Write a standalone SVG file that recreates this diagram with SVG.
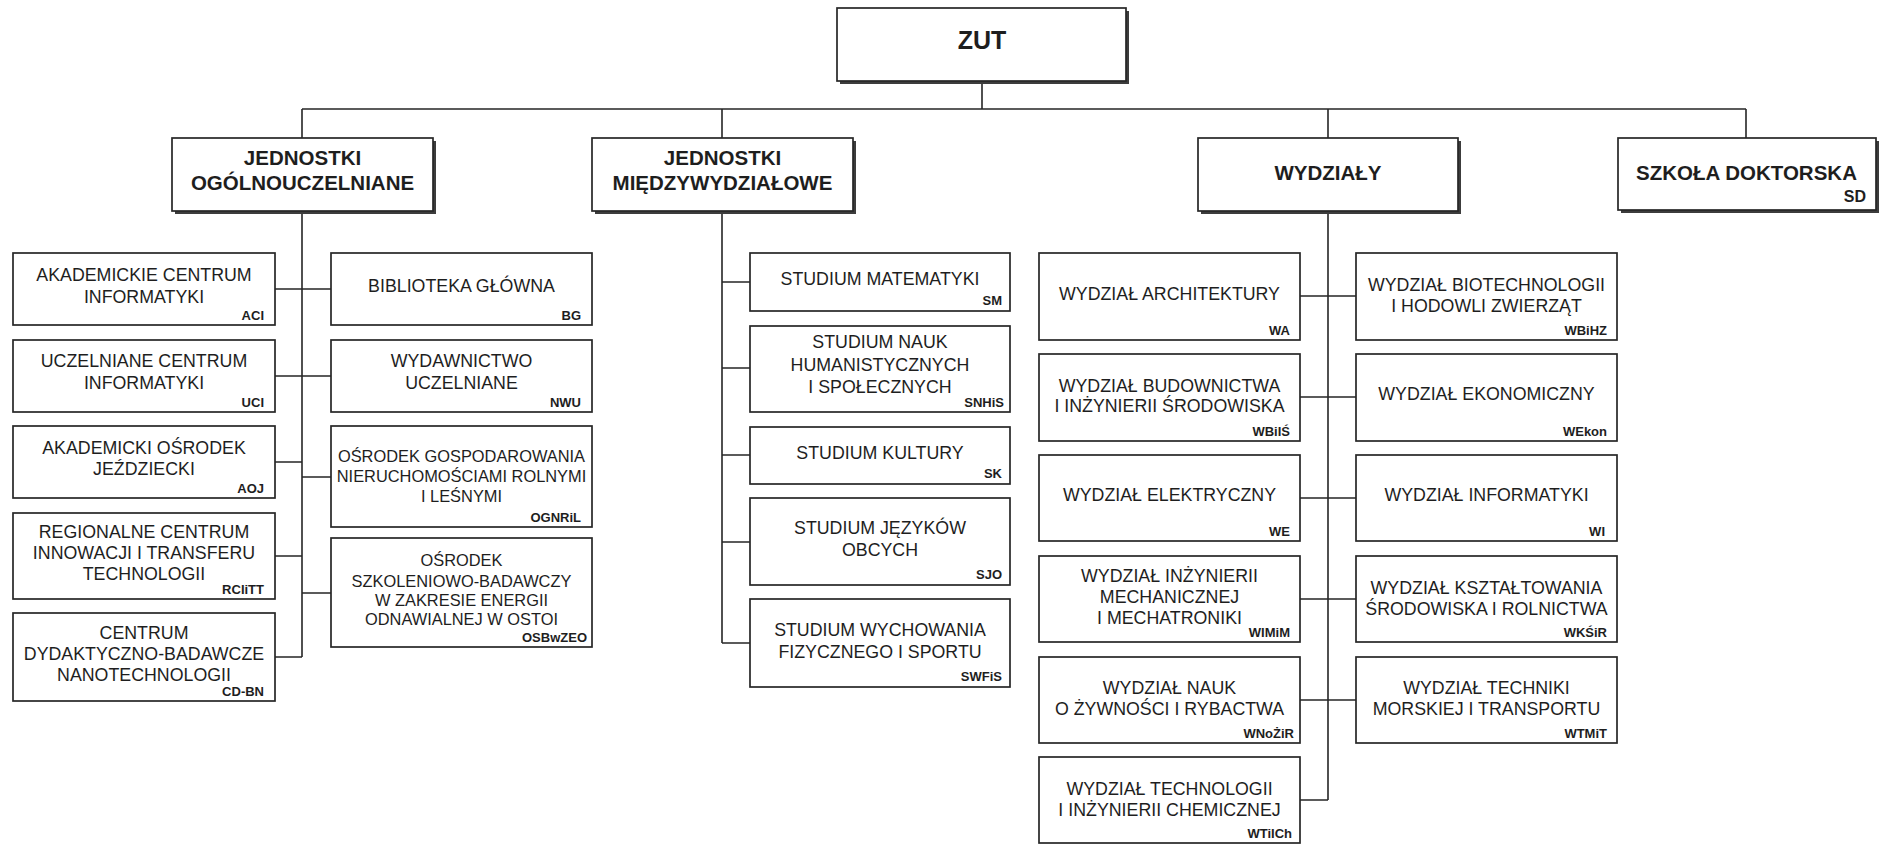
<svg xmlns="http://www.w3.org/2000/svg" width="1882" height="844" viewBox="0 0 1882 844">
<style>
.bg{fill:#fff}
.box{fill:#fff;stroke:#262626;stroke-width:1.7}
.sh{fill:#3c3c3c}
.ln{stroke:#262626;stroke-width:1.6;fill:none}
text{font-family:"Liberation Sans",Arial,sans-serif;fill:#1e1e1e}
.t{font-size:17.8px;text-anchor:middle}
.ts{font-size:16.4px;text-anchor:middle}
.h{font-size:20.5px;font-weight:bold;text-anchor:middle}
.z{font-size:25px;font-weight:bold;text-anchor:middle}
.a{font-size:13px;font-weight:bold;text-anchor:end}
.a2{font-size:16px;font-weight:bold;text-anchor:end}
</style>
<rect class="bg" x="0" y="0" width="1882" height="844"/>

<g id="connectors">
<path class="ln" d="M982 81V109M302 109H1746M302 109V138M722 109V138M1328 109V138M1746 109V138"/>
<path class="ln" d="M302 212V657M275 289H331M275 376H331M275 462H302M302 477H331M275 556H302M302 593H331M275 657H302"/>
<path class="ln" d="M722 212V643M722 282H750M722 368H750M722 455H750M722 542H750M722 643H750"/>
<path class="ln" d="M1328 212V800M1300 296H1356M1300 397H1356M1300 498H1356M1300 599H1356M1300 700H1356M1300 800H1328"/>
</g>

<g id="ZUT">
<rect class="sh" x="840" y="11" width="289" height="73"/>
<rect class="box" x="837" y="8" width="289" height="73"/>
<text class="z" x="982" y="49">ZUT</text>
</g>

<g id="JO">
<rect class="sh" x="175" y="141" width="261" height="73"/>
<rect class="box" x="172" y="138" width="261" height="73"/>
<text class="h" x="302.5" y="165">JEDNOSTKI</text>
<text class="h" x="302.5" y="190">OGÓLNOUCZELNIANE</text>
</g>

<g id="JM">
<rect class="sh" x="595" y="141" width="261" height="73"/>
<rect class="box" x="592" y="138" width="261" height="73"/>
<text class="h" x="722.5" y="165">JEDNOSTKI</text>
<text class="h" x="722.5" y="190">MIĘDZYWYDZIAŁOWE</text>
</g>

<g id="WYD">
<rect class="sh" x="1201" y="141" width="260" height="73"/>
<rect class="box" x="1198" y="138" width="260" height="73"/>
<text class="h" x="1328" y="180">WYDZIAŁY</text>
</g>

<g id="SD">
<rect class="sh" x="1621" y="141" width="258" height="72"/>
<rect class="box" x="1618" y="138" width="258" height="72"/>
<text class="h" x="1746.5" y="180">SZKOŁA DOKTORSKA</text>
<text class="a2" x="1866" y="202">SD</text>
</g>

<!-- JO children left -->
<g id="ACI">
<rect class="box" x="13" y="253" width="262" height="72"/>
<text class="t" x="144" y="281">AKADEMICKIE CENTRUM</text>
<text class="t" x="144" y="303">INFORMATYKI</text>
<text class="a" x="264" y="320">ACI</text>
</g>
<g id="UCI">
<rect class="box" x="13" y="340" width="262" height="72"/>
<text class="t" x="144" y="367">UCZELNIANE CENTRUM</text>
<text class="t" x="144" y="389">INFORMATYKI</text>
<text class="a" x="264" y="407">UCI</text>
</g>
<g id="AOJ">
<rect class="box" x="13" y="426" width="262" height="72"/>
<text class="t" x="144" y="454">AKADEMICKI OŚRODEK</text>
<text class="t" x="144" y="475">JEŹDZIECKI</text>
<text class="a" x="264" y="493">AOJ</text>
</g>
<g id="RCIiTT">
<rect class="box" x="13" y="513" width="262" height="86"/>
<text class="t" x="144" y="538">REGIONALNE CENTRUM</text>
<text class="t" x="144" y="559">INNOWACJI I TRANSFERU</text>
<text class="t" x="144" y="580">TECHNOLOGII</text>
<text class="a" x="264" y="594">RCIiTT</text>
</g>
<g id="CD-BN">
<rect class="box" x="13" y="613" width="262" height="88"/>
<text class="t" x="144" y="639">CENTRUM</text>
<text class="t" x="144" y="660">DYDAKTYCZNO-BADAWCZE</text>
<text class="t" x="144" y="681">NANOTECHNOLOGII</text>
<text class="a" x="264" y="696">CD-BN</text>
</g>

<!-- JO children right -->
<g id="BG">
<rect class="box" x="331" y="253" width="261" height="72"/>
<text class="t" x="461.5" y="292">BIBLIOTEKA GŁÓWNA</text>
<text class="a" x="581" y="320">BG</text>
</g>
<g id="NWU">
<rect class="box" x="331" y="340" width="261" height="72"/>
<text class="t" x="461.5" y="367">WYDAWNICTWO</text>
<text class="t" x="461.5" y="389">UCZELNIANE</text>
<text class="a" x="581" y="407">NWU</text>
</g>
<g id="OGNRiL">
<rect class="box" x="331" y="426" width="261" height="101"/>
<text class="ts" x="461.5" y="462">OŚRODEK GOSPODAROWANIA</text>
<text class="ts" x="461.5" y="482">NIERUCHOMOŚCIAMI ROLNYMI</text>
<text class="ts" x="461.5" y="502">I LEŚNYMI</text>
<text class="a" x="581" y="522">OGNRiL</text>
</g>
<g id="OSBwZEO">
<rect class="box" x="331" y="538" width="261" height="109"/>
<text class="ts" x="461.5" y="566">OŚRODEK</text>
<text class="ts" x="461.5" y="587">SZKOLENIOWO-BADAWCZY</text>
<text class="ts" x="461.5" y="606">W ZAKRESIE ENERGII</text>
<text class="ts" x="461.5" y="625">ODNAWIALNEJ W OSTOI</text>
<text class="a" x="587" y="642">OSBwZEO</text>
</g>

<!-- JM children -->
<g id="SM">
<rect class="box" x="750" y="253" width="260" height="58"/>
<text class="t" x="880" y="285">STUDIUM MATEMATYKI</text>
<text class="a" x="1002" y="305">SM</text>
</g>
<g id="SNHiS">
<rect class="box" x="750" y="326" width="260" height="86"/>
<text class="t" x="880" y="348">STUDIUM NAUK</text>
<text class="t" x="880" y="371">HUMANISTYCZNYCH</text>
<text class="t" x="880" y="393">I SPOŁECZNYCH</text>
<text class="a" x="1004" y="407">SNHiS</text>
</g>
<g id="SK">
<rect class="box" x="750" y="427" width="260" height="57"/>
<text class="t" x="880" y="459">STUDIUM KULTURY</text>
<text class="a" x="1002" y="478">SK</text>
</g>
<g id="SJO">
<rect class="box" x="750" y="498" width="260" height="87"/>
<text class="t" x="880" y="534">STUDIUM JĘZYKÓW</text>
<text class="t" x="880" y="556">OBCYCH</text>
<text class="a" x="1002" y="579">SJO</text>
</g>
<g id="SWFiS">
<rect class="box" x="750" y="599" width="260" height="88"/>
<text class="t" x="880" y="636">STUDIUM WYCHOWANIA</text>
<text class="t" x="880" y="658">FIZYCZNEGO I SPORTU</text>
<text class="a" x="1002" y="681">SWFiS</text>
</g>

<!-- Wydzialy left -->
<g id="WA">
<rect class="box" x="1039" y="253" width="261" height="87"/>
<text class="t" x="1169.5" y="300">WYDZIAŁ ARCHITEKTURY</text>
<text class="a" x="1290" y="335">WA</text>
</g>
<g id="WBiIS">
<rect class="box" x="1039" y="354" width="261" height="87"/>
<text class="t" x="1169.5" y="392">WYDZIAŁ BUDOWNICTWA</text>
<text class="t" x="1169.5" y="412">I INŻYNIERII ŚRODOWISKA</text>
<text class="a" x="1290" y="436">WBiIŚ</text>
</g>
<g id="WE">
<rect class="box" x="1039" y="455" width="261" height="86"/>
<text class="t" x="1169.5" y="501">WYDZIAŁ ELEKTRYCZNY</text>
<text class="a" x="1290" y="536">WE</text>
</g>
<g id="WIMiM">
<rect class="box" x="1039" y="556" width="261" height="86"/>
<text class="t" x="1169.5" y="582">WYDZIAŁ INŻYNIERII</text>
<text class="t" x="1169.5" y="603">MECHANICZNEJ</text>
<text class="t" x="1169.5" y="624">I MECHATRONIKI</text>
<text class="a" x="1290" y="637">WIMiM</text>
</g>
<g id="WNoZiR">
<rect class="box" x="1039" y="657" width="261" height="86"/>
<text class="t" x="1169.5" y="694">WYDZIAŁ NAUK</text>
<text class="t" x="1169.5" y="715">O ŻYWNOŚCI I RYBACTWA</text>
<text class="a" x="1294" y="738">WNoŻiR</text>
</g>
<g id="WTiICh">
<rect class="box" x="1039" y="757" width="261" height="86"/>
<text class="t" x="1169.5" y="795">WYDZIAŁ TECHNOLOGII</text>
<text class="t" x="1169.5" y="816">I INŻYNIERII CHEMICZNEJ</text>
<text class="a" x="1292" y="838">WTiICh</text>
</g>

<!-- Wydzialy right -->
<g id="WBiHZ">
<rect class="box" x="1356" y="253" width="261" height="87"/>
<text class="t" x="1486.5" y="291">WYDZIAŁ BIOTECHNOLOGII</text>
<text class="t" x="1486.5" y="312">I HODOWLI ZWIERZĄT</text>
<text class="a" x="1607" y="335">WBiHZ</text>
</g>
<g id="WEkon">
<rect class="box" x="1356" y="354" width="261" height="87"/>
<text class="t" x="1486.5" y="400">WYDZIAŁ EKONOMICZNY</text>
<text class="a" x="1607" y="436">WEkon</text>
</g>
<g id="WI">
<rect class="box" x="1356" y="455" width="261" height="86"/>
<text class="t" x="1486.5" y="501">WYDZIAŁ INFORMATYKI</text>
<text class="a" x="1605" y="536">WI</text>
</g>
<g id="WKSiR">
<rect class="box" x="1356" y="556" width="261" height="86"/>
<text class="t" x="1486.5" y="594">WYDZIAŁ KSZTAŁTOWANIA</text>
<text class="t" x="1486.5" y="615">ŚRODOWISKA I ROLNICTWA</text>
<text class="a" x="1607" y="637">WKŚiR</text>
</g>
<g id="WTMiT">
<rect class="box" x="1356" y="657" width="261" height="86"/>
<text class="t" x="1486.5" y="694">WYDZIAŁ TECHNIKI</text>
<text class="t" x="1486.5" y="715">MORSKIEJ I TRANSPORTU</text>
<text class="a" x="1607" y="738">WTMiT</text>
</g>
</svg>
